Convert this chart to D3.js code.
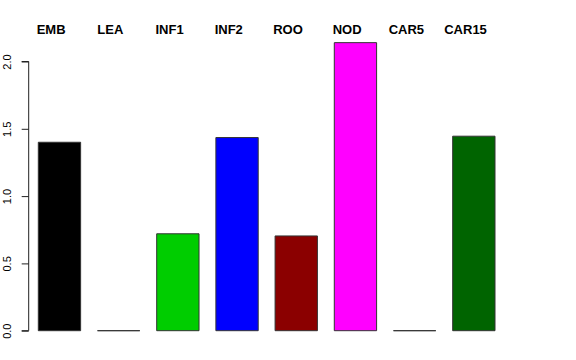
<!DOCTYPE html>
<html>
<head>
<meta charset="utf-8">
<script src="https://cdn.jsdelivr.net/npm/d3@7"></script>
<style>
  body { margin: 0; background: #fff; }
  svg { display: block; }
</style>
</head>
<body>
<div id="chart"></div>
<script>
// tissue bars, R barplot look
const categories = ['EMB', 'LEA', 'INF1', 'INF2', 'ROO', 'NOD', 'CAR5', 'CAR15'];
const values = [1.40, 0, 0.72, 1.435, 0.704, 2.14, 0, 1.445];
const colors = ['#000000', '#ff0000', '#00cd00', '#0000ff', '#8b0000', '#ff00ff', '#ffff00', '#006400'];
const yTicks = [0, 0.5, 1, 1.5, 2];

const W = 576, H = 360;

const svg = d3.select('#chart').append('svg')
  .attr('width', W).attr('height', H);

const x = d3.scaleBand().domain(categories)
  .range([38.3, 495]).paddingInner(0.285).paddingOuter(0);
const y = d3.scaleLinear().domain([0, 2]).range([330.7, 61.5]);

// bars as paths so zero-height ones still show their outline
svg.append('g').selectAll('path').data(categories).enter().append('path')
  .attr('d', (d, i) => {
    const x0 = x(d), x1 = x(d) + x.bandwidth();
    return `M${x0},${y(0)}H${x1}V${y(values[i])}H${x0}Z`;
  })
  .attr('fill', (d, i) => colors[i])
  .attr('stroke', '#333')
  .attr('stroke-width', 1);

// y axis
const axisX = 28.7;
const yAxis = d3.axisLeft(y).tickValues(yTicks).tickSize(7).tickFormat(d3.format('.1f'));
const ga = svg.append('g').attr('transform', `translate(${axisX},0)`).call(yAxis);
ga.select('.domain').attr('d', `M-7,${y(2)}H0V${y(0)}H-7`).attr('stroke', '#222');
ga.selectAll('.tick line').attr('stroke', '#222');
ga.selectAll('.tick text')
  .attr('transform', 'rotate(-90)')
  .attr('x', 0).attr('y', -axisX + 10.5)
  .attr('dy', 0)
  .attr('text-anchor', 'middle')
  .attr('font-family', 'Liberation Sans, Arial, sans-serif')
  .attr('font-size', 11)
  .attr('fill', '#000');

// category labels on top
svg.append('g').selectAll('text').data(categories).enter().append('text')
  .attr('x', d => x(d) + x.bandwidth() / 2 - 8.3)
  .attr('y', 34)
  .attr('text-anchor', 'middle')
  .attr('font-family', 'Liberation Sans, Arial, sans-serif')
  .attr('font-weight', 'bold')
  .attr('font-size', 13)
  .text(d => d);
</script>
</body>
</html>
